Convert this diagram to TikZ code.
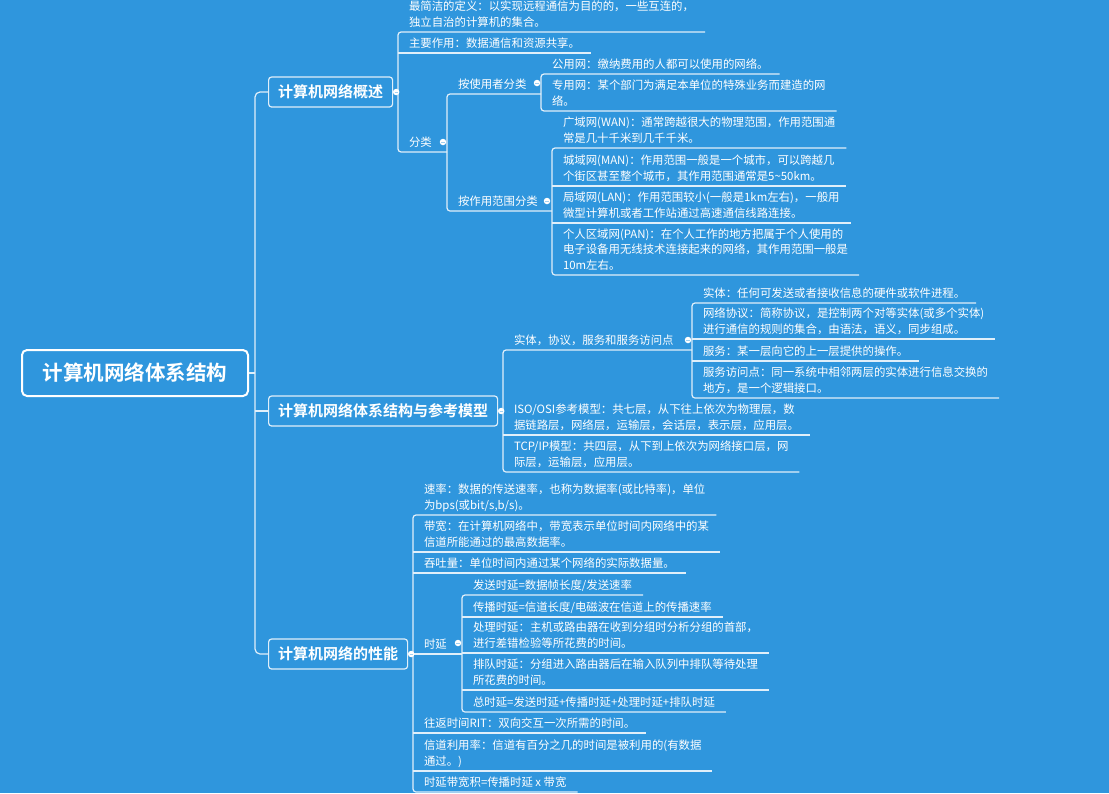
\documentclass[tikz,border=0pt]{standalone}
\usepackage{fontspec}
\setmainfont{Noto Sans CJK SC}[BoldFont={Noto Sans CJK SC Bold}]
\usetikzlibrary{calc}
\definecolor{bgblue}{HTML}{2F96DD}
\colorlet{linecol}{white!85!bgblue}
\newcommand{\leaffont}{\fontsize{11.4}{15.4}\selectfont}

\begin{document}
\begin{tikzpicture}[x=1pt, y=-1pt, line width=1.2pt,
  leaf/.style={anchor=south west, align=left, text=white, font=\leaffont,
    inner xsep=11pt, inner ysep=4.2pt, text depth=1.5pt, outer sep=0pt},
  topic/.style={anchor=west, draw=linecol, fill=bgblue, text=white, rounded corners=3pt,
    font=\bfseries\fontsize{15}{18}\selectfont, inner xsep=9.5pt, minimum height=30pt},
  rootbox/.style={draw=white, line width=2pt, fill=bgblue, text=white, rounded corners=5pt,
    font=\bfseries\fontsize{20.5}{24}\selectfont, minimum width=226pt, minimum height=46pt},
  conn/.style={draw=linecol, rounded corners=3pt},
  dot/.style={circle, fill=white, inner sep=0pt, minimum size=6.5pt,
    path picture={\draw[bgblue!45, line width=0.7pt]
      ([xshift=1.6pt]path picture bounding box.west) -- ([xshift=-1.6pt]path picture bounding box.east);}}]
  \useasboundingbox (0,0) rectangle (1109,793);
  \fill[bgblue] (0,0) rectangle (1109,793);

  % root and main topics
  \node[rootbox] (root) at (135,373) {计算机网络体系结构};
  \node[topic] (ovw) at (268,92) {计算机网络概述};
  \node[topic] (arch) at (268,411) {计算机网络体系结构与参考模型};
  \node[topic] (perf) at (268,654) {计算机网络的性能};
  \coordinate (bus) at ([xshift=-13pt]arch.west);
  \draw[conn, rounded corners=5pt] (ovw.west) -- ([xshift=-13pt]ovw.west) |- (perf.west);
  \draw[conn] (arch.west) -- (bus);
  \draw[conn] (root.east) -- (root.east -| bus);

  % overview
  \node[leaf] (def) at (398,32) {最简洁的定义：以实现远程通信为目的的，一些互连的，\\独立自治的计算机的集合。};
  \node[leaf] (role) at (398,53) {主要作用：数据通信和资源共享。};
  \node[leaf] (cls) at (398,152) {分类};
  \node[leaf] (byuser) at (447,94) {按使用者分类};
  \node[leaf] (byrange) at (447,211) {按作用范围分类};
  \node[leaf] (pub) at (541,74) {公用网：缴纳费用的人都可以使用的网络。};
  \node[leaf] (priv) at (541,111) {专用网：某个部门为满足本单位的特殊业务而建造的网\\络。};
  \node[leaf] (wan) at (552,148) {广域网(WAN)：通常跨越很大的物理范围，作用范围通\\常是几十千米到几千千米。};
  \node[leaf] (man) at (552,186) {城域网(MAN)：作用范围一般是一个城市，可以跨越几\\个街区甚至整个城市，其作用范围通常是5\textasciitilde 50km。};
  \node[leaf] (lan) at (552,223) {局域网(LAN)：作用范围较小(一般是1km左右)，一般用\\微型计算机或者工作站通过高速通信线路连接。};
  \node[leaf] (pan) at (552,275) {个人区域网(PAN)：在个人工作的地方把属于个人使用的\\电子设备用无线技术连接起来的网络，其作用范围一般是\\10m左右。};

  \draw[conn] (def.south east) -- (def.south west) -- (cls.south west) -- (cls.south west -| byuser.south west);
  \draw[conn] (role.south west) -- (role.south east);
  \draw[conn] (byuser.south west -| pub.south west) -- (byuser.south west) -- (byrange.south west) -- (byrange.south west -| wan.south west);
  \draw[conn] (pub.south east) -- (pub.south west) -- (priv.south west) -- (priv.south east);
  \draw[conn] (wan.south east) -- (wan.south west) -- (pan.south west) -- (pan.south east);
  \draw[conn] (man.south west) -- (man.south east);
  \draw[conn] (lan.south west) -- (lan.south east);

  % architecture and models
  \node[leaf] (epsap) at (503,350) {实体，协议，服务和服务访问点};
  \node[leaf] (osi) at (503,435) {ISO/OSI参考模型：共七层，从下往上依次为物理层，数\\据链路层，网络层，运输层，会话层，表示层，应用层。};
  \node[leaf] (tcpip) at (503,472) {TCP/IP模型：共四层，从下到上依次为网络接口层，网\\际层，运输层，应用层。};
  \node[leaf] (ent) at (692,303) {实体：任何可发送或者接收信息的硬件或软件进程。};
  \node[leaf] (proto) at (692,339) {网络协议：简称协议，是控制两个对等实体(或多个实体)\\进行通信的规则的集合，由语法，语义，同步组成。};
  \node[leaf] (svc) at (692,361) {服务：某一层向它的上一层提供的操作。};
  \node[leaf] (sap) at (692,398) {服务访问点：同一系统中相邻两层的实体进行信息交换的\\地方，是一个逻辑接口。};

  \draw[conn] (epsap.south west -| ent.south west) -- (epsap.south west) -- (tcpip.south west) -- (tcpip.south east);
  \draw[conn] (osi.south west) -- (osi.south east);
  \draw[conn] (ent.south east) -- (ent.south west) -- (sap.south west) -- (sap.south east);
  \draw[conn] (proto.south west) -- (proto.south east);
  \draw[conn] (svc.south west) -- (svc.south east);

  % performance
  \node[leaf] (rate) at (413,515) {速率：数据的传送速率，也称为数据率(或比特率)，单位\\为bps(或bit/s,b/s)。};
  \node[leaf] (bw) at (413,552) {带宽：在计算机网络中，带宽表示单位时间内网络中的某\\信道所能通过的最高数据率。};
  \node[leaf] (thru) at (413,573) {吞吐量：单位时间内通过某个网络的实际数据量。};
  \node[leaf] (delay) at (413,654) {时延};
  \node[leaf] (rtt) at (413,733) {往返时间RIT：双向交互一次所需的时间。};
  \node[leaf] (util) at (413,771) {信道利用率：信道有百分之几的时间是被利用的(有数据\\通过。)};
  \node[leaf] (bdp) at (413,792) {时延带宽积=传播时延 x 带宽};
  \node[leaf] (dsend) at (462,595) {发送时延=数据帧长度/发送速率};
  \node[leaf] (dprop) at (462,617) {传播时延=信道长度/电磁波在信道上的传播速率};
  \node[leaf] (dproc) at (462,653) {处理时延：主机或路由器在收到分组时分析分组的首部，\\进行差错检验等所花费的时间。};
  \node[leaf] (dqueue) at (462,690) {排队时延：分组进入路由器后在输入队列中排队等待处理\\所花费的时间。};
  \node[leaf] (dtotal) at (462,712) {总时延=发送时延+传播时延+处理时延+排队时延};

  \draw[conn] (rate.south east) -- (rate.south west) -- (bdp.south west) -- (bdp.south east);
  \foreach \n in {bw, thru, rtt, util}
    \draw[conn] (\n.south west) -- (\n.south east);
  \draw[conn] (delay.south west) -- (delay.south west -| dsend.south west);
  \draw[conn] (dsend.south east) -- (dsend.south west) -- (dtotal.south west) -- (dtotal.south east);
  \foreach \n in {dprop, dproc, dqueue}
    \draw[conn] (\n.south west) -- (\n.south east);

  % fold dots
  \node[dot] (ovwdot) at ([xshift=3pt]ovw.east) {};
  \node[dot] (archdot) at ([xshift=3pt]arch.east) {};
  \node[dot] (perfdot) at ([xshift=3pt]perf.east) {};
  \node[dot] (clsdot) at ($(cls.south west -| byuser.south west)+(-4,-10)$) {};
  \node[dot] (byuserdot) at ($(byuser.south west -| pub.south west)+(-4,-11)$) {};
  \node[dot] (byrangedot) at ($(byrange.south west -| wan.south west)+(-5,-10)$) {};
  \node[dot] (epsapdot) at ($(epsap.south west -| ent.south west)+(-4,-10)$) {};
  \node[dot] (delaydot) at ($(delay.south west -| dsend.south west)+(-4,-11)$) {};
\end{tikzpicture}
\end{document}
